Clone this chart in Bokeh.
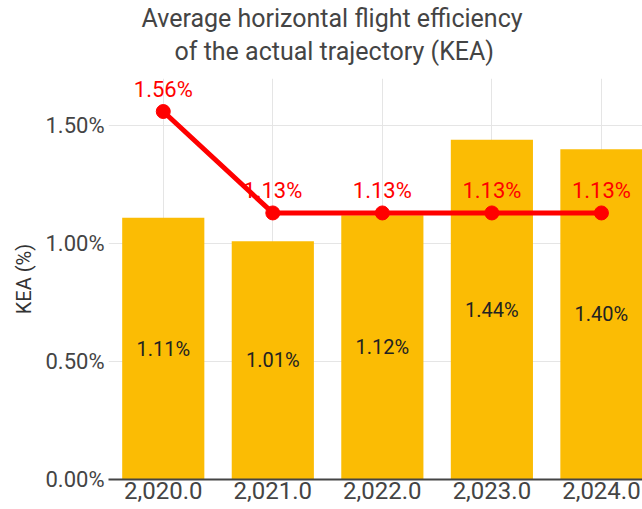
from bokeh.plotting import figure
from bokeh.models import ColumnDataSource, LabelSet, Title, FixedTicker, NumeralTickFormatter, PrintfTickFormatter, Range1d
from bokeh.core.properties import value
from bokeh.embed import file_html
from bokeh.resources import INLINE

years = [2020, 2021, 2022, 2023, 2024]
bar_values = [1.11, 1.01, 1.12, 1.44, 1.40]
line_values = [1.56, 1.13, 1.13, 1.13, 1.13]
y_ticks = [0.0, 0.5, 1.0, 1.5]
title_line1 = "Average horizontal flight efficiency"
title_line2 = "of the actual trajectory (KEA)"
y_label = "KEA (%)"

FONT = "Roboto"

src = ColumnDataSource(dict(
    x=years,
    bar=bar_values,
    bar_mid=[v / 2 for v in bar_values],
    bar_txt=[f"{v:.2f}%" for v in bar_values],
    line=line_values,
    line_txt=[f"{v:.2f}%" for v in line_values],
))

p = figure(width=642, height=509, output_backend="svg", toolbar_location=None,
           x_range=Range1d(2019.5, 2024.375), y_range=Range1d(0, 1.70),
           min_border_left=108, min_border_right=0, min_border_bottom=30, min_border_top=0)
p.title = None
p.outline_line_color = None
p.background_fill_color = "white"
p.border_fill_color = "white"

spacer = Title(text=" ", text_font=FONT, text_font_size="1px", standoff=9)
t2 = Title(text=title_line2, align="left", offset=66, text_font=FONT,
           text_font_size="25px", text_font_style="normal", text_color="#444444", standoff=2)
t1 = Title(text=title_line1, align="left", offset=33, text_font=FONT,
           text_font_size="25px", text_font_style="normal", text_color="#444444", standoff=2)
p.add_layout(spacer, "above")
p.add_layout(t2, "above")
p.add_layout(t1, "above")

p.vbar(x="x", top="bar", width=0.75, source=src, color="#FBBC04", line_color=None)
p.line(x="x", y="line", source=src, line_color="#FF0000", line_width=5)
p.scatter(x="x", y="line", source=src, size=14, color="#FF0000")

bar_labels = LabelSet(x="x", y="bar_mid", text="bar_txt", source=src, text_align="center",
                      text_baseline="middle", text_font=value(FONT), text_font_size=value("20px"),
                      text_color="#222222")
line_labels = LabelSet(x="x", y="line", text="line_txt", source=src, text_align="center",
                       text_baseline="middle", y_offset=22, text_font=value(FONT),
                       text_font_size=value("22px"), text_color="#FF0000")
p.add_layout(bar_labels)
p.add_layout(line_labels)

p.xaxis.ticker = FixedTicker(ticks=years)
p.xaxis.formatter = NumeralTickFormatter(format="0,0.0")
p.yaxis.ticker = FixedTicker(ticks=y_ticks)
p.yaxis.formatter = PrintfTickFormatter(format="%.2f%%")

for ax in (p.xaxis, p.yaxis):
    ax.major_label_text_font = FONT
    ax.major_label_text_color = "#444444"
    ax.major_tick_line_color = None
    ax.minor_tick_line_color = None
    ax.major_tick_out = 0
    ax.major_tick_in = 0

p.xaxis.major_label_text_font_size = "24px"
p.yaxis.major_label_text_font_size = "22px"

p.xaxis.axis_line_color = "#444444"
p.xaxis.axis_line_width = 2
p.xaxis.major_label_standoff = 2
p.yaxis.axis_line_color = None
p.yaxis.major_label_standoff = 4
p.yaxis.axis_label = y_label
p.yaxis.axis_label_text_font = FONT
p.yaxis.axis_label_text_font_size = "20px"
p.yaxis.axis_label_text_font_style = "normal"
p.yaxis.axis_label_text_color = "#333333"
p.yaxis.axis_label_standoff = 6

p.xgrid.grid_line_color = "#E5E5E5"
p.ygrid.grid_line_color = "#E5E5E5"
p.xgrid.grid_line_width = 1
p.ygrid.grid_line_width = 1

open("out.html", "w").write(file_html(p, INLINE))
